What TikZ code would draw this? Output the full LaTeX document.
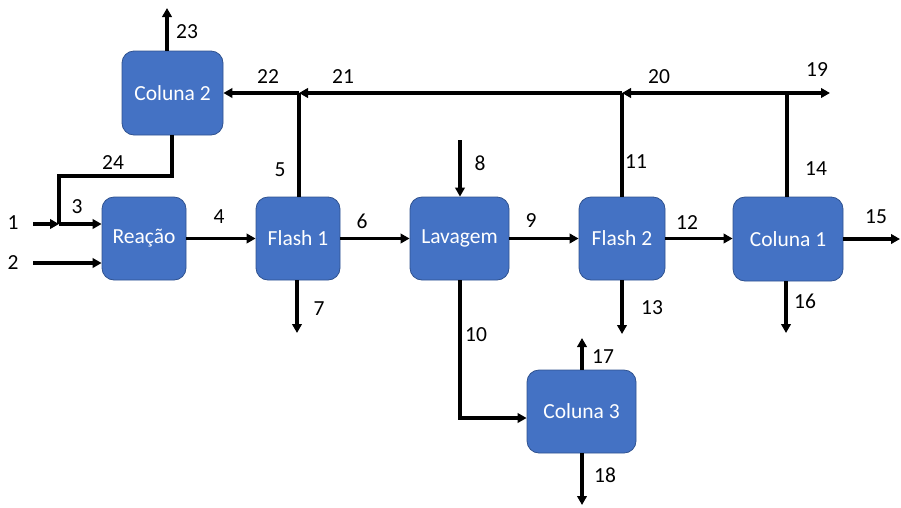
\documentclass[tikz,border=0pt]{standalone}
\usepackage{fontspec}
\setmainfont{Carlito}
\usetikzlibrary{arrows.meta}
\definecolor{boxfill}{HTML}{4472C4}
\definecolor{boxdraw}{HTML}{2F528F}
\tikzset{
  unit/.style={rounded corners=12pt, fill=boxfill, draw=boxdraw, line width=0.8pt,
    text=white, inner sep=0pt, font=\fontsize{21.5}{25}\selectfont},
  lbl/.style={inner sep=0pt, text=black, font=\fontsize{21.5}{25}\selectfont},
  pipe/.style={line width=3.1pt, line cap=butt, line join=miter},
  arr/.style={pipe, -{Triangle[length=9pt,width=9.5pt]}}
}
\begin{document}
\begin{tikzpicture}[x=1pt,y=-1pt]
\useasboundingbox (0,0) rectangle (901,507);
% units
\node[unit, minimum width=101pt, minimum height=84pt] (col2) at (172.5,93) {Coluna 2};
\node[unit, minimum width=84pt, minimum height=83pt] (reac) at (144,238.5) {Reação};
\node[unit, minimum width=84pt, minimum height=83pt] (fl1) at (298,238.5) {Flash 1};
\node[unit, minimum width=99pt, minimum height=83pt] (lav) at (459.5,238.5) {Lavagem};
\node[unit, minimum width=86pt, minimum height=83pt] (fl2) at (622,238.5) {Flash 2};
\node[unit, minimum width=110pt, minimum height=84pt] (col1) at (788,239) {Coluna 1};
\node[unit, minimum width=109pt, minimum height=83pt] (col3) at (581.5,411.5) {Coluna 3};
% coordinates
\coordinate (p23) at (167,8);
\coordinate (j1) at (299,93);
\coordinate (j2) at (622,93);
\coordinate (j3) at (787,93);
\coordinate (p19) at (830,93);
\coordinate (c24a) at (172,176);
\coordinate (c24b) at (59,176);
\coordinate (j0) at (59,224);
\coordinate (p1) at (33,224);
\coordinate (p2) at (33,263);
\coordinate (p15) at (900,239);
\coordinate (p7) at (297,333);
\coordinate (p8) at (460,140);
\coordinate (c10) at (460,418);
\coordinate (p13) at (622,334);
\coordinate (p16) at (786,333);
\coordinate (p17) at (582,338);
\coordinate (p18) at (582,505);
% connectors
\draw[arr] (col2.north -| p23) -- (p23);
\draw[pipe] (fl1.north -| j1) -- (j1);
\draw[pipe] (fl2.north -| j2) -- (j2);
\draw[pipe] (col1.north -| j3) -- (j3);
\draw[arr] (j3) -- (p19);
\draw[arr] (j3) -- (j2);
\draw[arr] (j2) -- (j1);
\draw[arr] (j1) -- (col2.east |- j1);
\draw[pipe] (col2.south -| c24a) -- (c24a) -- (c24b) -- (j0);
\draw[arr] (p1) -- (j0);
\draw[arr] (j0) -- (reac.west |- j0);
\draw[arr] (p2) -- (reac.west |- p2);
\draw[arr] (reac.east) -- (fl1.west);
\draw[arr] (fl1.east) -- (lav.west);
\draw[arr] (lav.east) -- (fl2.west);
\draw[arr] (fl2.east) -- (col1.west |- fl2.east);
\draw[arr] (col1.east |- p15) -- (p15);
\draw[arr] (fl1.south -| p7) -- (p7);
\draw[arr] (p8) -- (lav.north -| p8);
\draw[arr] (lav.south -| c10) -- (c10) -- (col3.west |- c10);
\draw[arr] (fl2.south -| p13) -- (p13);
\draw[arr] (col1.south -| p16) -- (p16);
\draw[arr] (col3.north -| p17) -- (p17);
\draw[arr] (col3.south -| p18) -- (p18);
% labels
\node[lbl] (l1) at (13,223) {1};
\node[lbl] (l2) at (13,263) {2};
\node[lbl] (l3) at (77,207) {3};
\node[lbl] (l4) at (219,217) {4};
\node[lbl] (l5) at (280,170) {5};
\node[lbl] (l6) at (362,221) {6};
\node[lbl] (l7) at (319,309) {7};
\node[lbl] (l8) at (480,163) {8};
\node[lbl] (l9) at (531,221) {9};
\node[lbl] (l10) at (476,335) {10};
\node[lbl] (l11) at (636,162) {11};
\node[lbl] (l12) at (687,223) {12};
\node[lbl] (l13) at (652,308) {13};
\node[lbl] (l14) at (816,169) {14};
\node[lbl] (l15) at (876,217) {15};
\node[lbl] (l16) at (805,301) {16};
\node[lbl] (l17) at (603,357) {17};
\node[lbl] (l18) at (605,475) {18};
\node[lbl] (l19) at (817,70) {19};
\node[lbl] (l20) at (659,77) {20};
\node[lbl] (l21) at (343,77) {21};
\node[lbl] (l22) at (268,77) {22};
\node[lbl] (l23) at (187,32) {23};
\node[lbl] (l24) at (113,163) {24};
\end{tikzpicture}
\end{document}
